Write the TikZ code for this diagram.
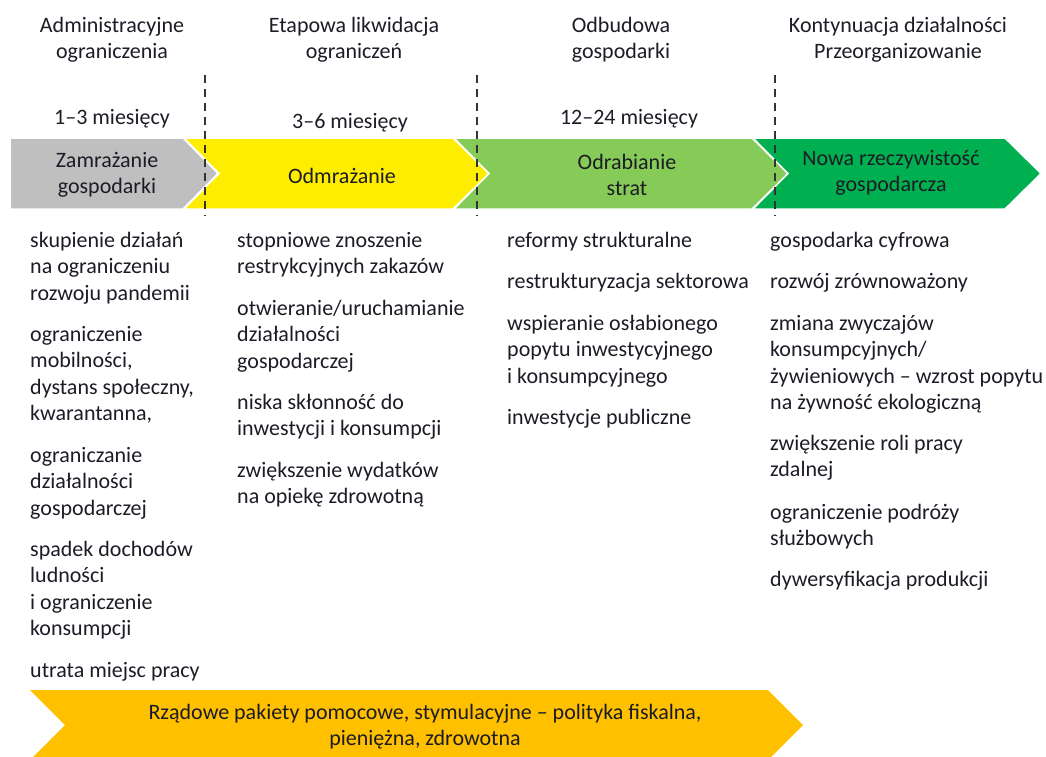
\documentclass[tikz,border=0pt]{standalone}
\usepackage{fontspec}
\setmainfont{Carlito}
\definecolor{txt}{HTML}{1C1C26}
\definecolor{cgray}{HTML}{BFBFBF}
\definecolor{cyellow}{HTML}{FFED00}
\definecolor{clgreen}{HTML}{86CB57}
\definecolor{cdgreen}{HTML}{00B050}
\definecolor{cgold}{HTML}{FFC000}
\definecolor{cdash}{HTML}{333333}
\newcommand\colL[1]{\vtop{\halign{\strut##\hfil\cr#1\crcr}}}
\newcommand\colC[1]{\vtop{\halign{\hfil\strut##\hfil\cr#1\crcr}}}
\tikzset{
  lbl/.style={font=\fontsize{22}{26.5}\selectfont, text=txt, inner sep=0pt},
  itm/.style={lbl, anchor=base west},
  ctr/.style={lbl, anchor=base},
  chev/.style={draw=white, line width=1.5pt, line join=miter},
  sep/.style={draw=cdash, line width=2pt, dash pattern=on 8pt off 6pt}
}
\begin{document}
\begin{tikzpicture}[x=1pt,y=-1pt]
\useasboundingbox (0,0) rectangle (1046,756);
% chevrons
\fill[cgray, chev] (10,138) -- (183,138) -- (218,173.5) -- (183,209) -- (10,209) -- cycle;
\fill[cyellow, chev] (184,138) -- (453,138) -- (489,173.5) -- (453,209) -- (184,209) -- (219,173.5) -- cycle;
\fill[clgreen, chev] (454,138) -- (752,138) -- (788,173.5) -- (752,209) -- (454,209) -- (489,173.5) -- cycle;
\fill[cdgreen, chev] (753,138) -- (1005,138) -- (1041,173.5) -- (1005,209) -- (753,209) -- (788,173.5) -- cycle;
% bottom arrow
\begin{scope}
\clip (0,0) rectangle (1046,756);
\fill[cgold] (30,690) -- (768,690) -- (803,725) -- (768,760) -- (30,760) -- (65,725) -- cycle;
\end{scope}
% dashed separators
\draw[sep] (205,75) -- (205,216);
\draw[sep] (477,75) -- (477,216);
\draw[sep] (775,75) -- (775,216);
% headers
\node[ctr] (h1) at (112,32) {\colC{Administracyjne\cr ograniczenia}};
\node[ctr] (h2) at (354,32) {\colC{Etapowa likwidacja\cr ograniczeń}};
\node[ctr] (h3) at (621,32) {\colC{Odbudowa\cr gospodarki}};
\node[ctr] (h4) at (898,32) {\colC{Kontynuacja działalności\cr Przeorganizowanie}};
% durations
\node[ctr] (m1) at (112,124) {1–3 miesięcy};
\node[ctr] (m2) at (350,128) {3–6 miesięcy};
\node[ctr] (m3) at (629,124) {12–24 miesięcy};
% chevron labels
\node[ctr] (s1) at (107,167) {\colC{Zamrażanie\cr gospodarki}};
\node[ctr] (s2) at (342,183) {Odmrażanie};
\node[ctr] (s3) at (627,169) {\colC{Odrabianie\cr strat}};
\node[ctr] (s4) at (891,165) {\colC{Nowa rzeczywistość\cr gospodarcza}};
% column 1
\node[itm] (a1) at (30,247) {\colL{skupienie działań\cr na ograniczeniu\cr rozwoju pandemii}};
\node[itm] (a2) at (30,341) {\colL{ograniczenie\cr mobilności,\cr dystans społeczny,\cr kwarantanna,}};
\node[itm] (a3) at (30,462) {\colL{ograniczanie\cr działalności\cr gospodarczej}};
\node[itm] (a4) at (30,556) {\colL{spadek dochodów\cr ludności\cr i ograniczenie\cr konsumpcji}};
\node[itm] (a5) at (30,677) {utrata miejsc pracy};
% column 2
\node[itm] (b1) at (237,247) {\colL{stopniowe znoszenie\cr restrykcyjnych zakazów}};
\node[itm] (b2) at (237,315) {\colL{otwieranie/uruchamianie\cr działalności\cr gospodarczej}};
\node[itm] (b3) at (237,409) {\colL{niska skłonność do\cr inwestycji i konsumpcji}};
\node[itm] (b4) at (237,477) {\colL{zwiększenie wydatków\cr na opiekę zdrowotną}};
% column 3
\node[itm] (c1) at (507,247) {reformy strukturalne};
\node[itm] (c2) at (507,288) {restrukturyzacja sektorowa};
\node[itm] (c3) at (507,330) {\colL{wspieranie osłabionego\cr popytu inwestycyjnego\cr i konsumpcyjnego}};
\node[itm] (c4) at (507,424) {inwestycje publiczne};
% column 4
\node[itm] (d1) at (770,247) {gospodarka cyfrowa};
\node[itm] (d2) at (770,288) {rozwój zrównoważony};
\node[itm] (d3) at (770,330) {\colL{zmiana zwyczajów\cr konsumpcyjnych/\cr żywieniowych – wzrost popytu\cr na żywność ekologiczną}};
\node[itm] (d4) at (770,450) {\colL{zwiększenie roli pracy\cr zdalnej}};
\node[itm] (d5) at (770,519) {\colL{ograniczenie podróży\cr służbowych}};
\node[itm] (d6) at (770,586) {dywersyfikacja produkcji};
% bottom label
\node[ctr] (g) at (425,719) {\colC{Rządowe pakiety pomocowe, stymulacyjne – polityka fiskalna,\cr pieniężna, zdrowotna}};
\end{tikzpicture}
\end{document}
